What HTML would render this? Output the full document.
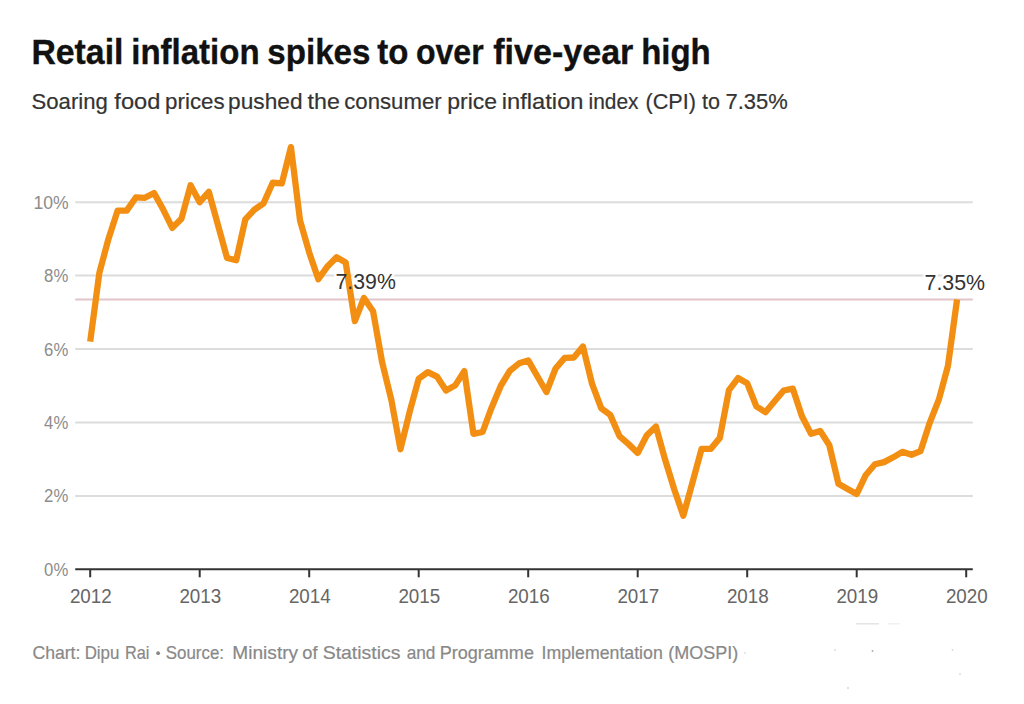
<!DOCTYPE html>
<html><head><meta charset="utf-8">
<style>
html,body{margin:0;padding:0;background:#fff;}
body{width:1024px;height:704px;overflow:hidden;}
svg{display:block;font-family:"Liberation Sans", sans-serif;}
</style></head>
<body>
<svg width="1024" height="704" viewBox="0 0 1024 704">
<rect width="1024" height="704" fill="#fff"/>
<g font-size="35.6" font-weight="bold" fill="#111" stroke="#111" stroke-width="0.35"><g transform="translate(0,63.7)"><text x="31.38" textLength="92.06" lengthAdjust="spacingAndGlyphs">Retail</text><text x="131.24" textLength="128.36" lengthAdjust="spacingAndGlyphs">inflation</text><text x="267.26" textLength="103.2" lengthAdjust="spacingAndGlyphs">spikes</text><text x="377.17" textLength="31.12" lengthAdjust="spacingAndGlyphs">to</text><text x="415.97" textLength="67.66" lengthAdjust="spacingAndGlyphs">over</text><text x="493.24" textLength="140.12" lengthAdjust="spacingAndGlyphs">five-year</text><text x="641.16" textLength="69.6" lengthAdjust="spacingAndGlyphs">high</text></g></g>
<g font-size="21.4" fill="#333" stroke="#333" stroke-width="0.2"><g transform="translate(0,108.5)"><text x="31.56" textLength="76.26" lengthAdjust="spacingAndGlyphs">Soaring</text><text x="114.39" textLength="46.03" lengthAdjust="spacingAndGlyphs">food</text><text x="165.13" textLength="59.49" lengthAdjust="spacingAndGlyphs">prices</text><text x="228.13" textLength="74.42" lengthAdjust="spacingAndGlyphs">pushed</text><text x="307.59" textLength="32.24" lengthAdjust="spacingAndGlyphs">the</text><text x="344.27" textLength="97.34" lengthAdjust="spacingAndGlyphs">consumer</text><text x="447.21" textLength="49.83" lengthAdjust="spacingAndGlyphs">price</text><text x="501.8" textLength="81.72" lengthAdjust="spacingAndGlyphs">inflation</text><text x="588.5" textLength="49.97" lengthAdjust="spacingAndGlyphs">index</text><text x="645.47" textLength="50.36" lengthAdjust="spacingAndGlyphs">(CPI)</text><text x="702.05" textLength="17.96" lengthAdjust="spacingAndGlyphs">to</text><text x="725.47" textLength="62.23" lengthAdjust="spacingAndGlyphs">7.35%</text></g></g>
<g stroke="#dcdcdc" stroke-width="2">
<line x1="75.2" y1="495.88" x2="972.8" y2="495.88"/>
<line x1="75.2" y1="422.46" x2="972.8" y2="422.46"/>
<line x1="75.2" y1="349.04" x2="972.8" y2="349.04"/>
<line x1="75.2" y1="275.62" x2="972.8" y2="275.62"/>
<line x1="75.2" y1="202.20" x2="972.8" y2="202.20"/>
</g>
<line x1="75.2" y1="299.6" x2="972.8" y2="299.6" stroke="#e2c4c9" stroke-width="2"/>
<g font-size="18.9" fill="#8c8c8c">
<text x="44.12" y="575.80" textLength="24.16" lengthAdjust="spacingAndGlyphs">0%</text>
<text x="44.12" y="502.38" textLength="24.16" lengthAdjust="spacingAndGlyphs">2%</text>
<text x="44.12" y="428.96" textLength="24.16" lengthAdjust="spacingAndGlyphs">4%</text>
<text x="44.12" y="355.54" textLength="24.16" lengthAdjust="spacingAndGlyphs">6%</text>
<text x="44.12" y="282.12" textLength="24.16" lengthAdjust="spacingAndGlyphs">8%</text>
<text x="33.57" y="208.70" textLength="35.19" lengthAdjust="spacingAndGlyphs">10%</text>
</g>
<g font-size="22.6" fill="#333" stroke="#fff" stroke-width="5" stroke-linejoin="round"><text x="335.56" y="289.2" textLength="60.25" lengthAdjust="spacingAndGlyphs">7.39%</text><text x="924.55" y="289.5" textLength="60.56" lengthAdjust="spacingAndGlyphs">7.35%</text></g>
<polyline points="90.20,341.70 99.33,273.05 108.45,238.91 117.58,210.64 126.70,210.64 135.82,197.43 144.95,197.79 154.07,193.02 163.20,209.54 172.32,227.90 181.45,218.72 190.57,185.31 199.70,202.20 208.82,191.92 217.95,224.96 227.07,258.00 236.20,260.20 245.32,219.45 254.45,209.54 263.57,203.30 272.70,182.74 281.82,183.48 290.95,147.13 300.07,220.55 309.20,252.49 318.32,279.29 327.45,266.44 336.57,257.26 345.70,262.40 354.82,321.14 363.95,298.01 373.07,311.23 382.20,362.62 391.32,399.70 400.45,449.26 409.57,412.18 418.70,378.78 427.82,372.17 436.95,376.57 446.07,390.52 455.20,385.38 464.32,371.07 473.45,433.84 482.57,432.00 491.70,407.41 500.82,385.75 509.95,370.70 519.08,363.36 528.20,360.42 537.33,376.21 546.45,391.99 555.58,368.50 564.70,357.85 573.83,357.48 582.95,346.47 592.08,383.91 601.20,408.14 610.33,415.12 619.45,436.04 628.58,444.12 637.70,452.93 646.83,435.31 655.95,426.50 665.08,459.54 674.20,489.27 683.33,515.70 692.45,482.66 701.58,448.89 710.70,448.89 719.83,437.88 728.95,390.16 738.08,378.04 747.20,383.18 756.33,406.31 765.45,412.18 774.58,401.17 783.70,390.52 792.83,388.69 801.95,416.22 811.08,433.84 820.20,430.90 829.33,445.22 838.45,483.77 847.58,488.91 856.70,494.04 865.83,474.96 874.95,464.31 884.08,462.11 893.20,457.33 902.33,451.83 911.45,454.76 920.58,451.09 929.70,422.83 938.83,399.70 947.95,365.93 957.08,299.48" fill="none" stroke="#f28e12" stroke-width="6.3" stroke-linejoin="round" stroke-linecap="butt"/>
<g font-size="22.6" fill="#333"><text x="335.56" y="289.2" textLength="60.25" lengthAdjust="spacingAndGlyphs">7.39%</text><text x="924.55" y="289.5" textLength="60.56" lengthAdjust="spacingAndGlyphs">7.35%</text></g>
<line x1="75.2" y1="569.3" x2="972.8" y2="569.3" stroke="#333" stroke-width="2"/>
<g stroke="#333" stroke-width="2">
<line x1="90.20" y1="569.3" x2="90.20" y2="577.3"/>
<line x1="199.70" y1="569.3" x2="199.70" y2="577.3"/>
<line x1="309.20" y1="569.3" x2="309.20" y2="577.3"/>
<line x1="418.70" y1="569.3" x2="418.70" y2="577.3"/>
<line x1="528.20" y1="569.3" x2="528.20" y2="577.3"/>
<line x1="637.70" y1="569.3" x2="637.70" y2="577.3"/>
<line x1="747.20" y1="569.3" x2="747.20" y2="577.3"/>
<line x1="856.70" y1="569.3" x2="856.70" y2="577.3"/>
<line x1="966.20" y1="569.3" x2="966.20" y2="577.3"/>
</g>
<g font-size="19.6" fill="#666">
<text x="69.89" y="602.8" textLength="41.83" lengthAdjust="spacingAndGlyphs">2012</text>
<text x="179.39" y="602.8" textLength="41.83" lengthAdjust="spacingAndGlyphs">2013</text>
<text x="288.89" y="602.8" textLength="41.83" lengthAdjust="spacingAndGlyphs">2014</text>
<text x="398.39" y="602.8" textLength="41.83" lengthAdjust="spacingAndGlyphs">2015</text>
<text x="507.89" y="602.8" textLength="41.83" lengthAdjust="spacingAndGlyphs">2016</text>
<text x="617.39" y="602.8" textLength="41.83" lengthAdjust="spacingAndGlyphs">2017</text>
<text x="726.89" y="602.8" textLength="41.83" lengthAdjust="spacingAndGlyphs">2018</text>
<text x="836.39" y="602.8" textLength="41.83" lengthAdjust="spacingAndGlyphs">2019</text>
<text x="945.89" y="602.8" textLength="41.83" lengthAdjust="spacingAndGlyphs">2020</text>
</g>
<g font-size="18.6" fill="#888" stroke="#888" stroke-width="0.2"><g transform="translate(0,658.9)"><text x="32.44" textLength="47.94" lengthAdjust="spacingAndGlyphs">Chart:</text><text x="84.63" textLength="34.82" lengthAdjust="spacingAndGlyphs">Dipu</text><text x="125.03" textLength="24.38" lengthAdjust="spacingAndGlyphs">Rai</text><text x="165.7" textLength="58.33" lengthAdjust="spacingAndGlyphs">Source:</text><text x="232.33" textLength="65.82" lengthAdjust="spacingAndGlyphs">Ministry</text><text x="302.28" textLength="15.23" lengthAdjust="spacingAndGlyphs">of</text><text x="322.74" textLength="77.66" lengthAdjust="spacingAndGlyphs">Statistics</text><text x="406.65" textLength="28.72" lengthAdjust="spacingAndGlyphs">and</text><text x="439.75" textLength="94.17" lengthAdjust="spacingAndGlyphs">Programme</text><text x="541.57" textLength="121.18" lengthAdjust="spacingAndGlyphs">Implementation</text><text x="668.23" textLength="69.95" lengthAdjust="spacingAndGlyphs">(MOSPI)</text></g></g>
<circle cx="158.1" cy="653.2" r="1.9" fill="#888"/>
<g stroke="#e4e4e4" stroke-width="1.5"><line x1="856" y1="623.8" x2="879" y2="623.8"/><line x1="888" y1="623.8" x2="900" y2="623.8" stroke="#f0f0f0"/></g>
<g fill="#d8d8d8"><circle cx="835" cy="650" r="0.9"/><circle cx="872.5" cy="651" r="0.9" fill="#aaa"/><circle cx="745" cy="653" r="1" fill="#e0e0e0"/><circle cx="952.5" cy="650" r="0.9"/><circle cx="848" cy="688" r="1"/><circle cx="960" cy="674" r="0.9"/></g>
</svg>
</body></html>
